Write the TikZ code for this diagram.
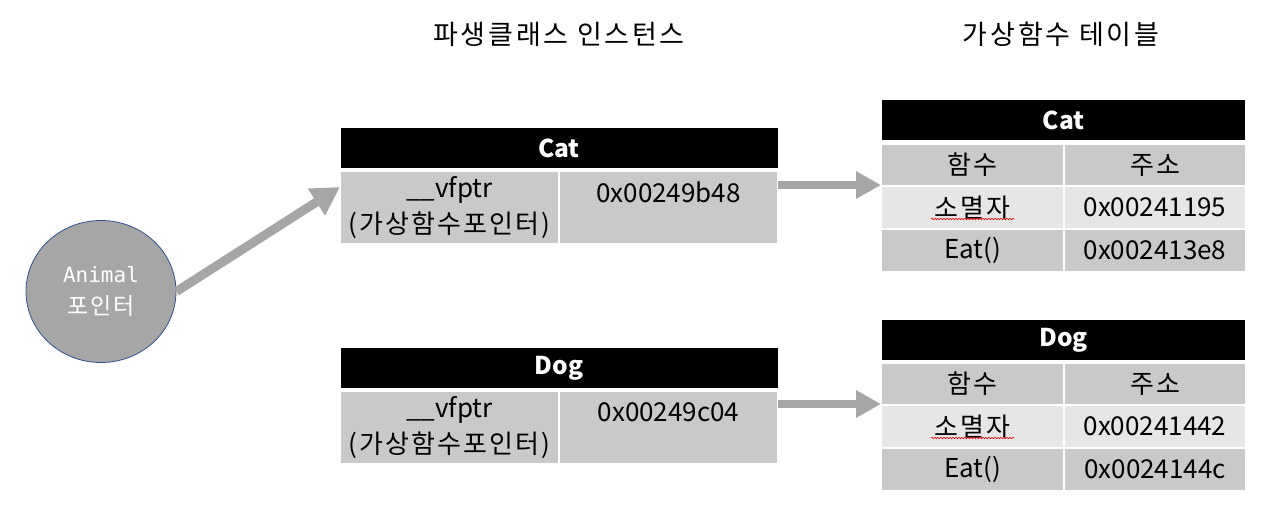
\documentclass[tikz,border=0pt]{standalone}
\usepackage{fontspec}
\setmainfont{Noto Sans CJK KR}
\newfontfamily\krtitle[LetterSpace=10]{Noto Sans CJK KR}
\newfontfamily\krcell[LetterSpace=8]{Noto Sans CJK KR}
\newfontfamily\monofnt{DejaVu Sans Mono}
\newfontfamily\krwide[LetterSpace=7]{Noto Sans CJK KR}
\usetikzlibrary{shapes.geometric,arrows.meta,decorations.pathmorphing}
\definecolor{cellgray}{HTML}{C9C9C9}
\definecolor{celllight}{HTML}{E6E6E6}
\definecolor{arrowgray}{HTML}{A6A6A6}
\definecolor{circborder}{HTML}{2F528F}
\tikzset{
  cell/.style={fill=cellgray, inner sep=0pt, outer sep=0pt, text=black, font=\fontsize{26}{36}\selectfont, align=center},
  lcell/.style={cell, fill=celllight},
  head/.style={fill=black, inner sep=0pt, outer sep=0pt, text=white, font=\fontsize{24.5}{28}\selectfont\bfseries},
  title/.style={font=\krtitle\fontsize{27}{30}\selectfont, inner sep=0pt},
  bigarrow/.style={draw=arrowgray, line width=9pt, -{Triangle[length=28pt,width=30pt]}},
  smallarrow/.style={draw=arrowgray, line width=8pt, -{Triangle[length=25pt,width=26pt]}},
  spell/.style={draw=red, line width=0.6pt, decorate, decoration={snake, amplitude=0.8pt, segment length=3pt}}
}
\begin{document}
\begin{tikzpicture}[x=1pt,y=-1pt]
\useasboundingbox (0,0) rectangle (1265,516);
% titles
\node[title] (t1) at (559,34) {파생클래스 인스턴스};
\node[title] (t2) at (1061,34) {가상함수 테이블};
% pointer circle
\node[ellipse, fill=arrowgray, draw=circborder, line width=0.8pt, minimum width=150pt, minimum height=142pt, inner sep=0pt, text=white, align=center, font=\fontsize{21}{32}\selectfont] (ptr) at (101,291.5)
  {{\monofnt Animal}\\{\krwide\fontsize{23}{32}\selectfont 포인터}};
% Cat instance
\node[head, minimum width=437pt, minimum height=40pt] (cathead) at (559,148) {Cat};
\node[cell, minimum width=217pt, minimum height=71pt] (catvf) at (449.5,207.5) {\_\_vfptr\\{\krcell(가상함수포인터)}};
\node[cell, minimum width=217pt, minimum height=71pt] (catval) at (668.5,207.5) {};
\node[inner sep=0pt, font=\fontsize{26}{30}\selectfont] (catvaltxt) at (668.5,192) {0x00249b48};
% Dog instance
\node[head, minimum width=437pt, minimum height=40pt] (doghead) at (559,368) {Dog};
\node[cell, minimum width=217pt, minimum height=71pt] (dogvf) at (449.5,427.5) {\_\_vfptr\\{\krcell(가상함수포인터)}};
\node[cell, minimum width=217pt, minimum height=71pt] (dogval) at (668.5,427.5) {};
\node[inner sep=0pt, font=\fontsize{26}{30}\selectfont] (dogvaltxt) at (668.5,412) {0x00249c04};
% Cat vtable
\node[head, minimum width=363pt, minimum height=40pt] (cvthead) at (1063.5,120) {Cat};
\node[cell, minimum width=181pt, minimum height=40pt] (cf1) at (972.5,165) {\krcell 함수};
\node[cell, minimum width=180pt, minimum height=40pt] (ca1) at (1155,165) {\krcell 주소};
\node[lcell, minimum width=181pt, minimum height=41pt] (cf2) at (972.5,207.5) {\krcell 소멸자};
\node[lcell, minimum width=180pt, minimum height=41pt] (ca2) at (1155,207.5) {0x00241195};
\node[cell, minimum width=181pt, minimum height=41pt] (cf3) at (972.5,250.5) {Eat()};
\node[cell, minimum width=180pt, minimum height=41pt] (ca3) at (1155,250.5) {0x002413e8};
% Dog vtable
\node[head, minimum width=363pt, minimum height=40pt] (dvthead) at (1063.5,340) {Dog};
\node[cell, minimum width=181pt, minimum height=40pt] (df1) at (972.5,384) {\krcell 함수};
\node[cell, minimum width=180pt, minimum height=40pt] (da1) at (1155,384) {\krcell 주소};
\node[lcell, minimum width=181pt, minimum height=41pt] (df2) at (972.5,426.5) {\krcell 소멸자};
\node[lcell, minimum width=180pt, minimum height=41pt] (da2) at (1155,426.5) {0x00241442};
\node[cell, minimum width=181pt, minimum height=41pt] (df3) at (972.5,469.5) {Eat()};
\node[cell, minimum width=180pt, minimum height=41pt] (da3) at (1155,469.5) {0x0024144c};
% spell-check underlines
\coordinate (cs1) at (931,219); \coordinate (cs2) at (1014,219);
\coordinate (ds1) at (931,438); \coordinate (ds2) at (1014,438);
\draw[spell] (cs1) -- (cs2);
\draw[spell] (ds1) -- (ds2);
% arrows
\coordinate (ptrtip) at (340,187);
\draw[bigarrow] (ptr.east) -- (ptrtip);
\draw[smallarrow] ([xshift=1pt]catval.east |- cf1.south) -- ([xshift=-1pt]cf1.south west);
\draw[smallarrow] ([xshift=1pt]dogval.east |- df1.south) -- ([xshift=-1pt]df1.south west);
\end{tikzpicture}
\end{document}
